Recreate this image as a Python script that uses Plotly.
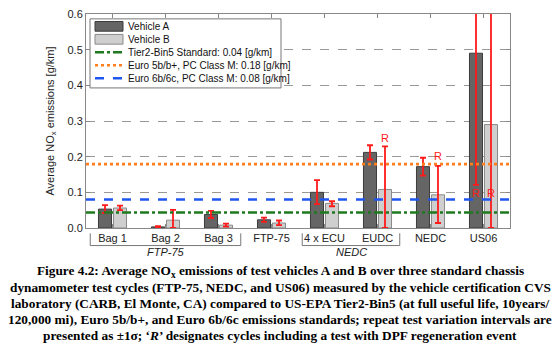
import plotly.graph_objects as go

categories = ["Bag 1", "Bag 2", "Bag 3", "FTP-75", "4 x ECU", "EUDC", "NEDC", "US06"]
veh_a = [0.053, 0.003, 0.038, 0.023, 0.100, 0.212, 0.172, 0.490]
veh_a_err_plus = [0.011, 0.002, 0.010, 0.006, 0.034, 0.020, 0.025, 0.370]
veh_a_err_minus = [0.011, 0.002, 0.010, 0.006, 0.033, 0.020, 0.025, 0.369]
veh_b = [0.056, 0.022, 0.008, 0.014, 0.069, 0.108, 0.093, 0.290]
veh_b_err_plus = [0.007, 0.029, 0.004, 0.007, 0.006, 0.121, 0.081, 0.400]
veh_b_err_minus = [0.006, 0.022, 0.004, 0.006, 0.008, 0.108, 0.079, 0.290]
standards = [
    ("Tier2-Bin5 Standard: 0.04 [g/km]", 0.0435, "#1f7a1f", "dashdot"),
    ("Euro 5b/b+, PC Class M: 0.18 [g/km]", 0.179, "#ff7f1e", "dot"),
    ("Euro 6b/6c, PC Class M: 0.08 [g/km]", 0.080, "#1e56f0", "dash"),
]
regen_marks = [  # (category index, vehicle offset sign, y)
    (5, 1, 0.251), (6, 1, 0.203), (7, -1, 0.098), (7, 1, 0.098)
]
groups = [("FTP-75", 0, 2), ("NEDC", 4, 5)]
caption_lines = [
    "Figure 4.2: Average NO<sub>x</sub> emissions of test vehicles A and B over three standard chassis",
    "dynamometer test cycles (FTP-75, NEDC, and US06) measured by the vehicle certification CVS",
    "laboratory (CARB, El Monte, CA) compared to US-EPA Tier2-Bin5 (at full useful life, 10years/",
    "120,000 mi), Euro 5b/b+, and Euro 6b/6c emissions standards; repeat test variation intervals are",
    "presented as \u00b11\u03c3; \u2018<i>R</i>\u2019 designates cycles including a test with DPF regeneration event",
]

COL_A, EDGE_A = "#656565", "#3c3c3c"
COL_B, EDGE_B = "#cfcfcf", "#8a8a8a"

# pixel geometry of the plot area (for paper-coordinate helpers)
W, H = 560, 351
PL, PR, PT, PB = 86, 510, 8, 228
def px(xp):
    return (xp - PL) / (PR - PL)
def py(yp):
    return (PB - yp) / (PB - PT)

xs = list(range(len(categories)))
fig = go.Figure()
fig.add_trace(go.Bar(
    x=xs, y=veh_a, name="Vehicle A",
    marker=dict(color=COL_A, line=dict(color=EDGE_A, width=1)),
    error_y=dict(type="data", array=veh_a_err_plus, arrayminus=veh_a_err_minus,
                 color="#ff1a1a", thickness=1.8, width=3),
))
fig.add_trace(go.Bar(
    x=xs, y=veh_b, name="Vehicle B",
    marker=dict(color=COL_B, line=dict(color=EDGE_B, width=1)),
    error_y=dict(type="data", array=veh_b_err_plus, arrayminus=veh_b_err_minus,
                 color="#ff1a1a", thickness=1.8, width=3),
))
for name, val, col, dash in standards:
    fig.add_trace(go.Scatter(
        x=[-0.5, len(categories) - 0.5], y=[val, val], mode="lines", name=name,
        line=dict(color=col, width=2.6, dash=dash),
    ))

off = 0.142
for idx, sgn, yv in regen_marks:
    fig.add_annotation(x=idx + sgn * off, y=yv, text="R", showarrow=False,
                       font=dict(family="Liberation Sans, Arial", size=11, color="#ff1a1a"),
                       xref="x", yref="y")

# group brackets
for label, i0, i1 in groups:
    x0 = i0 - 0.42
    x1 = i1 + 0.42
    ytop, ybot = -0.025, -0.082
    for xx in (x0, x1):
        fig.add_shape(type="line", xref="x", yref="paper", x0=xx, x1=xx, y0=ytop, y1=ybot,
                      line=dict(color="#777777", width=1))
    fig.add_shape(type="line", xref="x", yref="paper", x0=x0, x1=x1, y0=ybot, y1=ybot,
                  line=dict(color="#777777", width=1))
    fig.add_annotation(x=(i0 + i1) / 2, y=-0.113, xref="x", yref="paper", text="<i>%s</i>" % label,
                       showarrow=False, yanchor="middle",
                       font=dict(family="Liberation Sans, Arial", size=11, color="#222222"))

# manual legend (compact, like the reference)
fig.add_shape(type="rect", xref="paper", yref="paper", x0=px(90), x1=px(281), y0=py(13), y1=py(84),
              line=dict(color="#777777", width=1), fillcolor="white", layer="above")
legend_items = [("Vehicle A", "patch", COL_A, EDGE_A, None),
                ("Vehicle B", "patch", COL_B, EDGE_B, None)] + \
               [(n, "line", c, None, d) for n, v, c, d in standards]
row_y = [20.7, 34.0, 47.3, 60.7, 74.0]
for (label, kind, col, edge, dash), ry in zip(legend_items, row_y):
    if kind == "patch":
        fig.add_shape(type="rect", xref="paper", yref="paper", x0=px(95), x1=px(123),
                      y0=py(ry + 5), y1=py(ry - 5), fillcolor=col,
                      line=dict(color=edge, width=1), layer="above")
    else:
        fig.add_shape(type="line", xref="paper", yref="paper", x0=px(95), x1=px(124),
                      y0=py(ry), y1=py(ry), line=dict(color=col, width=2.6, dash=dash), layer="above")
    fig.add_annotation(x=px(126), y=py(ry), xref="paper", yref="paper", xanchor="left",
                       yanchor="middle", text=label, showarrow=False,
                       font=dict(family="Liberation Sans, Arial", size=10, color="#111111"))

# caption, centred on the whole figure
cap_y = [273, 289.5, 306, 322.5, 339]
for line, yy in zip(caption_lines, cap_y):
    fig.add_annotation(x=px(W / 2), xref="paper", xanchor="center",
                       y=py(yy), yref="paper", yanchor="middle",
                       text="<b>%s</b>" % line, showarrow=False,
                       font=dict(family="Liberation Serif, Times New Roman", size=13.3, color="black"))

fig.update_layout(
    width=W, height=H,
    margin=dict(l=PL, r=W - PR, t=PT, b=H - PB),
    paper_bgcolor="white", plot_bgcolor="white",
    barmode="group", bargap=0.434, bargroupgap=0.13,
    font=dict(family="Liberation Sans, Arial", size=11, color="#222222"),
    showlegend=False,
    xaxis=dict(range=[-0.5, len(categories) - 0.5], tickvals=xs, ticktext=categories,
               showline=True, linecolor="#888888", linewidth=1, mirror="ticks",
               ticks="inside", ticklen=4, tickcolor="#888888", showgrid=False,
               tickfont=dict(size=11, color="#222222"), zeroline=False),
    yaxis=dict(range=[0, 0.6], tickvals=[0, 0.1, 0.2, 0.3, 0.4, 0.5, 0.6], tickformat=".1f",
               showline=True, linecolor="#888888", linewidth=1, mirror="ticks",
               ticks="inside", ticklen=4, tickcolor="#888888",
               showgrid=True, gridcolor="#999999", griddash="dash", gridwidth=1,
               zeroline=False, tickfont=dict(size=11, color="#222222"),
               title=dict(text="Average NO<sub>x</sub> emissions [g/km]", standoff=10,
                          font=dict(size=11, color="#222222"))),
)

fig.write_html("out.html")
